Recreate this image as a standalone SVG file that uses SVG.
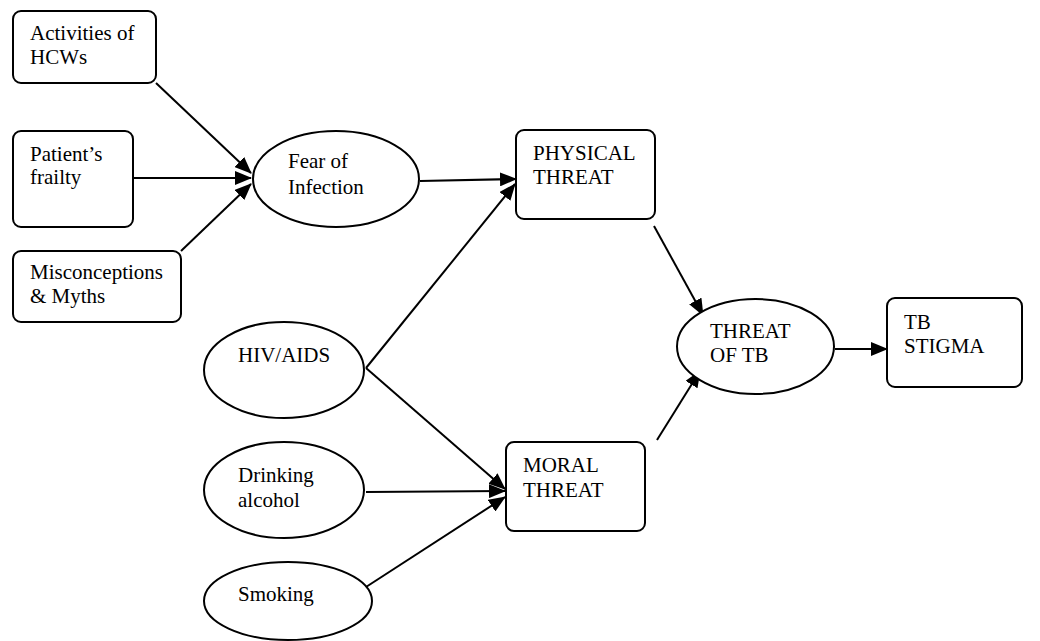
<svg xmlns="http://www.w3.org/2000/svg" width="1040" height="641" viewBox="0 0 1040 641">
<style>
.shape{fill:#fff;stroke:#000;stroke-width:2}
.lbl{font-family:"Liberation Serif","Times New Roman","DejaVu Serif",serif;font-size:21px;fill:#000}
.conn line{stroke:#000;stroke-width:2;marker-end:url(#ah)}
</style>
<defs>
<marker id="ah" markerUnits="userSpaceOnUse" markerWidth="17" markerHeight="14" viewBox="0 0 17 14" refX="16" refY="7" orient="auto">
<path d="M0,0 L17,7 L0,14 z" fill="#000"/>
</marker>
</defs>
<rect width="1040" height="641" fill="#fff"/>
<g id="connectors" class="conn">
<line x1="156" y1="83" x2="251" y2="173"/>
<line x1="133" y1="178" x2="251" y2="178"/>
<line x1="181" y1="251" x2="251" y2="184"/>
<line x1="420" y1="181" x2="516" y2="179"/>
<line x1="366" y1="368" x2="515" y2="184"/>
<line x1="366" y1="368" x2="505" y2="489"/>
<line x1="366" y1="492" x2="505" y2="491"/>
<line x1="366" y1="587" x2="505" y2="497"/>
<line x1="654" y1="226" x2="703" y2="315"/>
<line x1="657" y1="440" x2="700" y2="371"/>
<line x1="835" y1="349" x2="887" y2="349"/>
</g>
<g id="activities">
<rect class="shape" x="13" y="11" width="143" height="72" rx="8"/>
<text class="lbl" x="30" y="40">Activities of</text>
<text class="lbl" x="30" y="64">HCWs</text>
</g>
<g id="frailty">
<rect class="shape" x="13" y="131" width="120" height="96" rx="8"/>
<text class="lbl" x="30" y="161">Patient’s</text>
<text class="lbl" x="30" y="184">frailty</text>
</g>
<g id="myths">
<rect class="shape" x="13" y="251" width="168" height="71" rx="8"/>
<text class="lbl" x="30" y="279">Misconceptions</text>
<text class="lbl" x="30" y="303">&amp; Myths</text>
</g>
<g id="fear">
<ellipse class="shape" cx="336" cy="179" rx="83" ry="48"/>
<text class="lbl" x="288" y="168">Fear of</text>
<text class="lbl" x="288" y="194">Infection</text>
</g>
<g id="physical">
<rect class="shape" x="516" y="130" width="139" height="89" rx="8"/>
<text class="lbl" x="533" y="160">PHYSICAL</text>
<text class="lbl" x="533" y="184">THREAT</text>
</g>
<g id="hiv">
<ellipse class="shape" cx="284" cy="370" rx="80" ry="48"/>
<text class="lbl" x="238" y="362">HIV/AIDS</text>
</g>
<g id="drinking">
<ellipse class="shape" cx="284" cy="490" rx="80" ry="48"/>
<text class="lbl" x="238" y="482">Drinking</text>
<text class="lbl" x="238" y="507">alcohol</text>
</g>
<g id="smoking">
<ellipse class="shape" cx="288" cy="601" rx="84" ry="39"/>
<text class="lbl" x="238" y="601">Smoking</text>
</g>
<g id="moral">
<rect class="shape" x="506" y="442" width="139" height="89" rx="8"/>
<text class="lbl" x="523" y="472">MORAL</text>
<text class="lbl" x="523" y="497">THREAT</text>
</g>
<g id="threat">
<ellipse class="shape" cx="755.5" cy="346.5" rx="78.5" ry="47.5"/>
<text class="lbl" x="710" y="338">THREAT</text>
<text class="lbl" x="710" y="362">OF TB</text>
</g>
<g id="stigma">
<rect class="shape" x="887" y="298" width="135" height="89" rx="8"/>
<text class="lbl" x="904" y="329">TB</text>
<text class="lbl" x="904" y="353">STIGMA</text>
</g>
</svg>
